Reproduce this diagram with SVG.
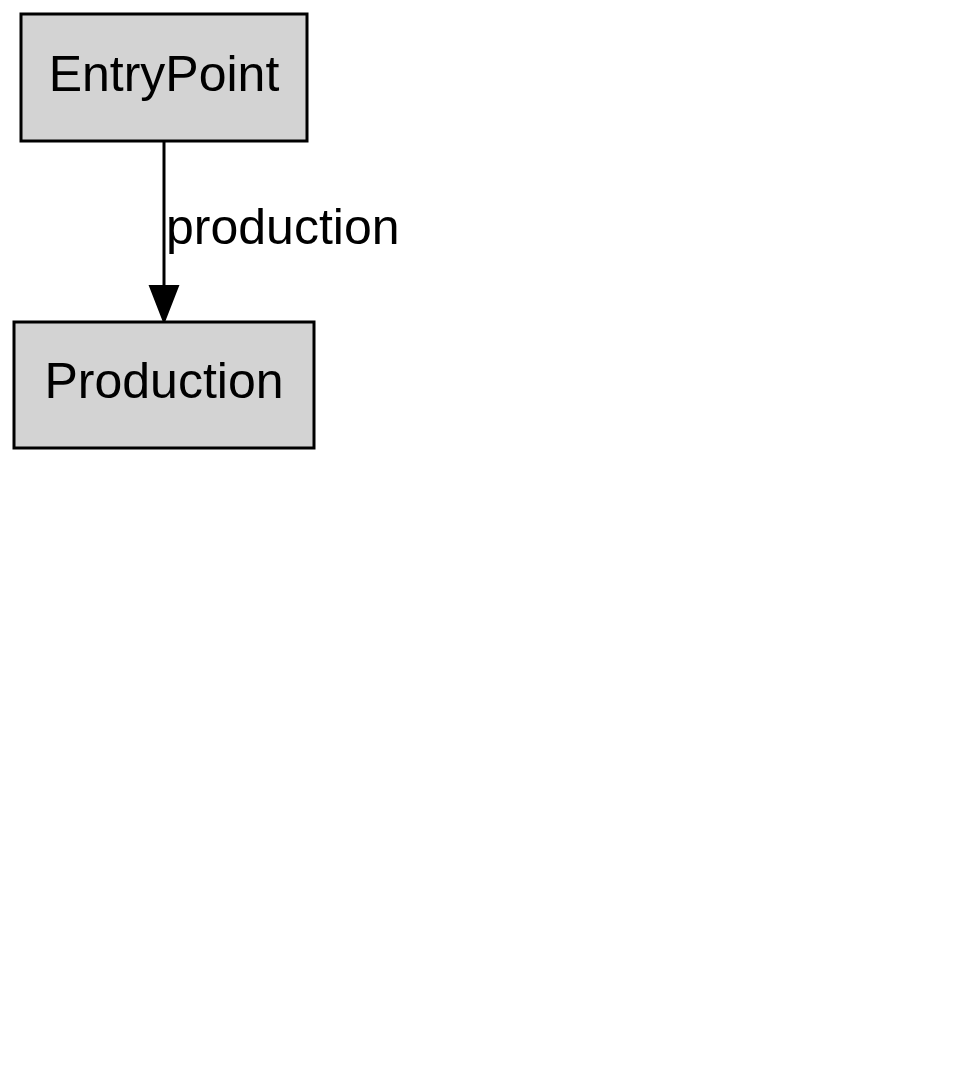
<svg xmlns="http://www.w3.org/2000/svg" width="979" height="1092" viewBox="0 0 979 1092">
<style>
.node rect{fill:#d3d3d3;stroke:#000;stroke-width:3}
text{font-family:"Liberation Sans",Arial,sans-serif;font-size:50px;fill:#000}
.edge line{stroke:#000;stroke-width:3}
.edge polygon{fill:#000;stroke:#000;stroke-width:2}
</style>
<rect width="979" height="1092" fill="#fff"/>
<g id="connectors" class="edge">
<line x1="164" y1="141" x2="164" y2="288"/>
<polygon points="150,286 178,286 164,322"/>
<text x="166" y="244">production</text>
</g>
<g id="EntryPoint" class="node">
<rect x="21" y="14" width="286" height="127"/>
<text x="164" y="91" text-anchor="middle">EntryPoint</text>
</g>
<g id="Production" class="node">
<rect x="14" y="322" width="300" height="126"/>
<text x="164" y="398" text-anchor="middle">Production</text>
</g>
</svg>
